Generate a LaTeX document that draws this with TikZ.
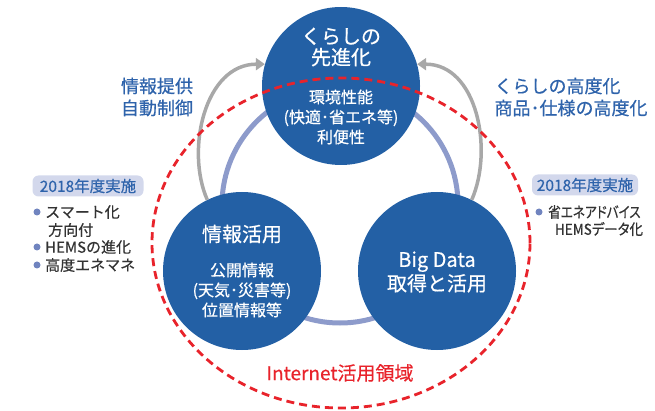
\documentclass[tikz,border=0pt]{standalone}
\usepackage{fontspec}
\setmainfont{Noto Sans CJK JP}[FakeBold=0.5]
\newfontfamily\paltfont[RawFeature=+palt, FakeBold=0.5]{Noto Sans CJK JP}
\usetikzlibrary{arrows.meta}
\definecolor{circleblue}{HTML}{2360A5}
\definecolor{labelblue}{HTML}{2E63AB}
\definecolor{ringblue}{HTML}{8D9BCB}
\definecolor{arrowgray}{HTML}{A8A8A8}
\definecolor{netred}{HTML}{E8232B}
\definecolor{boxfill}{HTML}{D3D8EC}
\definecolor{dotblue}{HTML}{7084BF}
\definecolor{listgray}{HTML}{333333}
\tikzset{
  bubble/.style={circle, fill=circleblue, minimum size=158pt, inner sep=0pt},
  bubbletitle/.style={text=white, align=center, font=\fontsize{20pt}{21pt}\selectfont},
  bubblesub/.style={text=white, align=center, font=\fontsize{16pt}{20pt}\selectfont},
  sidelabel/.style={text=labelblue, font=\fontsize{18pt}{22pt}\selectfont},
  yearbox/.style={rounded corners=6pt, fill=boxfill, text=labelblue, inner sep=0pt,
    minimum height=21pt, font=\fontsize{15.5pt}{18pt}\selectfont},
  listitem/.style={text=listgray, anchor=west, inner sep=0pt, font=\fontsize{15pt}{18pt}\selectfont},
  cycle arrow/.style={arrowgray, line width=3.5pt, -{Triangle[length=9pt, width=12pt]}}
}
\begin{document}
\begin{tikzpicture}[x=1pt, y=-1pt]
  \useasboundingbox (0,0) rectangle (655,411);
  \draw[ringblue, line width=5pt] (340,205) circle[radius=118pt];
  \draw
    (341,86) node[bubble] (kurashi){}
    (242,271) node[bubble] (joho){}
    (437,271) node[bubble] (bigdata){};
  \begin{scope}[cycle arrow]
    \draw (joho.116) .. controls +(-22,-50) and +(-60,0) .. (kurashi.164);
    \draw (bigdata.64) .. controls +(22,-50) and +(60,0) .. (kurashi.16);
  \end{scope}
  \draw[netred, line width=2.8pt, dash pattern=on 8pt off 5pt]
    (341,243) ellipse [x radius=189pt, y radius=165pt];
  \node[bubbletitle] (kurashi-title) at (341,47) {くらしの\\先進化};
  \node[bubblesub] (kurashi-sub) at (341,117) {環境性能\\(快適･省エネ等)\\利便性};
  \node[bubbletitle] (joho-title) at (242,234) {情報活用};
  \node[bubblesub] (joho-sub) at (242,290) {公開情報\\(天気･災害等)\\位置情報等};
  \node[bubbletitle, font=\fontsize{20pt}{24pt}\selectfont] (bigdata-title) at (437,272) {Big Data\\取得と活用};
  \node[sidelabel, align=center] (left-label) at (157,97) {情報提供\\自動制御};
  \node[sidelabel, align=left, anchor=west] (right-label) at (491,97) {くらしの高度化\\商品･仕様の高度化};
  \node[yearbox, minimum width=111pt] (left-year) at (88,186) {2018年度実施};
  \node[yearbox, minimum width=106pt] (right-year) at (585,185) {2018年度実施};
  \fill[dotblue] (37,212) circle[radius=3.5pt] (37,247) circle[radius=3.5pt]
    (37,265) circle[radius=3.5pt] (539,212) circle[radius=3.5pt];
  \node[listitem] (smart) at (45,212) {スマート化};
  \node[listitem] (houkou) at (48,230) {方向付};
  \node[listitem] (hems) at (45,247) {HEMSの進化};
  \node[listitem] (enemane) at (45,265) {高度エネマネ};
  \node[listitem] (advice) at (548,212) {\scalebox{0.84}[1]{\paltfont 省エネアドバイス}};
  \node[listitem, anchor=center] (hemsdata) at (599,229) {\scalebox{0.9}[1]{\paltfont HEMSデータ化}};
  \node[text=netred, font=\fontsize{19pt}{22pt}\selectfont] (internet) at (340,373) {Internet活用領域};
\end{tikzpicture}
\end{document}
